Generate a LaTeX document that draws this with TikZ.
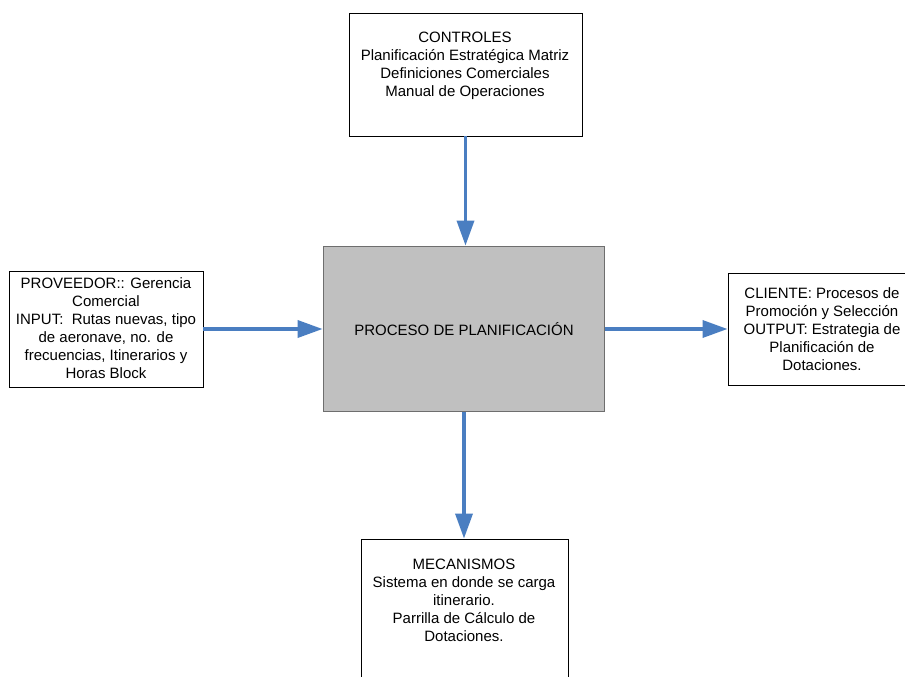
\documentclass[tikz,border=0pt]{standalone}
\usepackage{fontspec}
\setmainfont{Liberation Sans}
\usetikzlibrary{arrows.meta}
\definecolor{flowblue}{RGB}{74,126,193}
\definecolor{procfill}{RGB}{192,192,192}
\definecolor{procline}{RGB}{110,110,110}
\tikzset{
  box/.style={draw=black, line width=0.9pt, fill=white, inner sep=0pt},
  procbox/.style={draw=procline, line width=1.8pt, fill=procfill, inner sep=0pt,
    font=\fontsize{15}{18}\selectfont},
  boxtext/.style={align=center, inner sep=0pt, anchor=north,
    font=\fontsize{15}{18}\selectfont},
  flow/.style={draw=flowblue, line width=3.5pt,
    -{Triangle[length=25pt, width=17pt]}, shorten >=0pt},
}
\begin{document}
\begin{tikzpicture}[x=1pt, y=-1pt]
  \clip (0,0) rectangle (905,677);
  \fill[white] (0,0) rectangle (905,677);

  % central process
  \node[procbox, minimum width=281pt, minimum height=165pt] (proc) at (464,329)
    {PROCESO DE PLANIFICACIÓN};

  % controls (top)
  \node[box, minimum width=233pt, minimum height=123pt] (ctrl) at (465.5,74.5) {};
  \node[boxtext] (ctrltext) at (465,32)
    {CONTROLES\\Planificación Estratégica Matriz\\Definiciones Comerciales\\Manual de Operaciones};

  % supplier / input (left)
  \node[box, minimum width=194pt, minimum height=116pt] (prov) at (106,329) {};
  \node[boxtext] (provtext) at (106,277)
    {PROVEEDOR:: Gerencia\\Comercial\\INPUT:\ \ Rutas nuevas, tipo\\de aeronave, no. de\\frecuencias, Itinerarios y\\Horas Block};

  % client / output (right)
  \node[box, minimum width=188pt, minimum height=112pt] (client) at (822,329) {};
  \node[boxtext] (clienttext) at (822,287)
    {CLIENTE: Procesos de\\Promoción y Selección\\OUTPUT: Estrategia de\\Planificación de\\Dotaciones.};

  % mechanisms (bottom)
  \node[box, minimum width=207pt, minimum height=161pt] (mech) at (464.5,619.5) {};
  \node[boxtext] (mechtext) at (464,559)
    {MECANISMOS\\Sistema en donde se carga\\itinerario.\\Parrilla de Cálculo de\\Dotaciones.};

  % connectors
  \draw[flow] (ctrl.south) -- (ctrl.south |- proc.north);
  \draw[flow] (prov.east) -- (prov.east -| proc.west);
  \draw[flow] (proc.east) -- (proc.east -| client.west);
  \draw[flow] (proc.south) -- (proc.south |- mech.north);
\end{tikzpicture}
\end{document}
